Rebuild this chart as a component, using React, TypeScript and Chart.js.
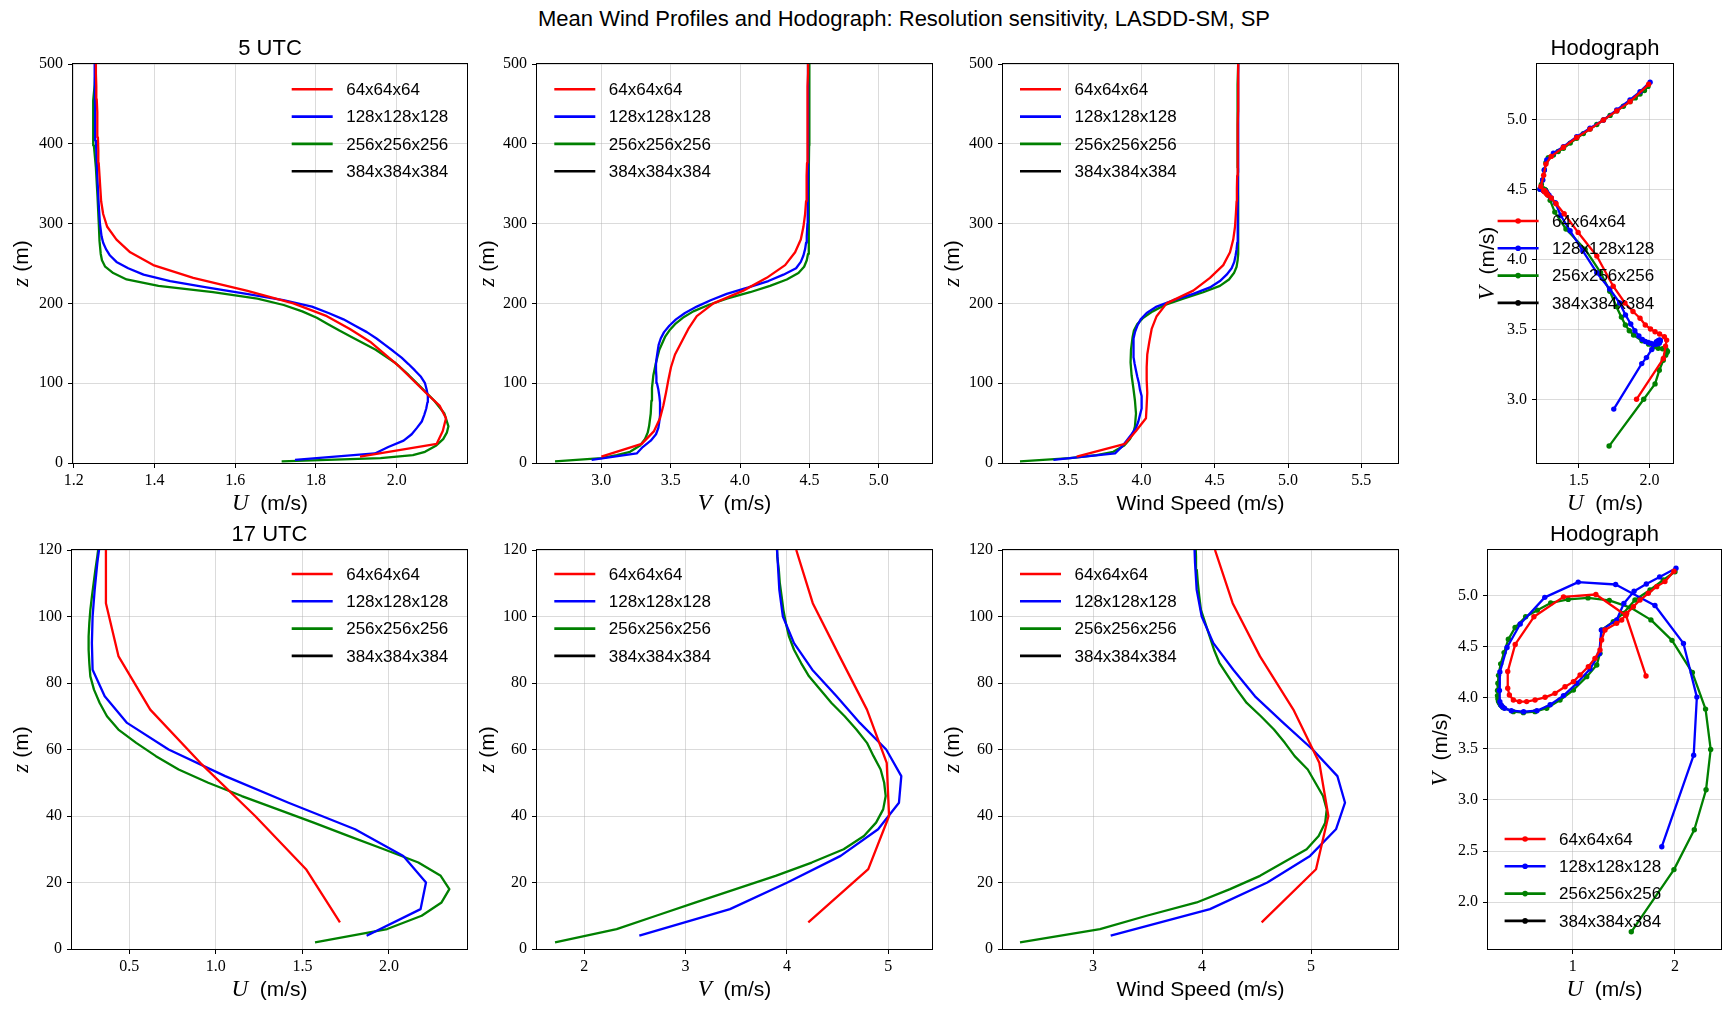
import React, { useEffect, useRef } from 'react';
import { Chart, registerables } from 'chart.js';

Chart.register(...registerables);

// ---------------- series meta ----------------
const SERIES_LABELS = ['64x64x64', '128x128x128', '256x256x256', '384x384x384'];
const SERIES_COLORS = ['#ff0000', '#0000ff', '#008000', '#000000'];

// ---------------- 5 UTC profiles ----------------
const z5_64 = [8, 24, 40, 56, 72, 88, 104, 120, 136, 152, 168, 184, 200, 216, 232, 248, 264, 280, 296, 312, 328, 344, 360, 376, 392, 408, 424, 440, 456, 472, 488, 504];
const u5_64 = [1.909, 2.099, 2.114, 2.122, 2.106, 2.072, 2.04, 2.008, 1.971, 1.934, 1.884, 1.827, 1.744, 1.628, 1.496, 1.397, 1.34, 1.306, 1.283, 1.273, 1.268, 1.266, 1.264, 1.262, 1.261, 1.26, 1.259, 1.258, 1.257, 1.256, 1.255, 1.255];
const v5_64 = [3.0, 3.291, 3.38, 3.423, 3.447, 3.466, 3.483, 3.502, 3.531, 3.579, 3.627, 3.688, 3.808, 4.024, 4.192, 4.325, 4.397, 4.438, 4.457, 4.469, 4.476, 4.479, 4.481, 4.483, 4.484, 4.485, 4.486, 4.487, 4.488, 4.489, 4.49, 4.49];
const s5_64 = [3.557, 3.887, 3.962, 4.03, 4.035, 4.039, 4.035, 4.035, 4.039, 4.053, 4.069, 4.103, 4.171, 4.353, 4.467, 4.558, 4.604, 4.626, 4.638, 4.644, 4.649, 4.651, 4.653, 4.655, 4.656, 4.657, 4.658, 4.659, 4.659, 4.66, 4.66, 4.66];

const z5_128 = [4, 12, 20, 28, 36, 44, 52, 60, 68, 76, 84, 92, 100, 108, 116, 124, 132, 140, 148, 156, 164, 172, 180, 188, 196, 204, 212, 220, 228, 236, 244, 252, 260, 268, 276, 284, 300, 324, 364, 404, 444, 484, 508];
const u5_128 = [1.748, 1.946, 1.979, 2.017, 2.037, 2.05, 2.062, 2.068, 2.073, 2.076, 2.077, 2.074, 2.07, 2.06, 2.045, 2.029, 2.012, 1.992, 1.971, 1.95, 1.926, 1.897, 1.868, 1.831, 1.79, 1.719, 1.628, 1.529, 1.439, 1.373, 1.335, 1.306, 1.29, 1.28, 1.273, 1.269, 1.265, 1.262, 1.258, 1.255, 1.253, 1.252, 1.252];
const v5_128 = [2.93, 3.255, 3.298, 3.356, 3.394, 3.411, 3.418, 3.423, 3.423, 3.423, 3.418, 3.411, 3.401, 3.397, 3.394, 3.394, 3.399, 3.406, 3.413, 3.428, 3.452, 3.49, 3.538, 3.603, 3.688, 3.788, 3.904, 4.06, 4.204, 4.313, 4.404, 4.438, 4.457, 4.469, 4.476, 4.481, 4.486, 4.488, 4.49, 4.49, 4.49, 4.49, 4.49];
const s5_128 = [3.398, 3.819, 3.864, 3.898, 3.932, 3.962, 3.978, 3.989, 4.0, 4.003, 3.998, 3.989, 3.982, 3.971, 3.962, 3.953, 3.946, 3.944, 3.944, 3.948, 3.955, 3.971, 3.994, 4.035, 4.103, 4.217, 4.353, 4.467, 4.535, 4.581, 4.615, 4.633, 4.642, 4.649, 4.653, 4.655, 4.657, 4.658, 4.659, 4.66, 4.66, 4.66, 4.66];

const z5_256 = [2, 6, 10, 14, 22, 30, 38, 46, 62, 78, 94, 110, 126, 142, 158, 166, 174, 182, 190, 198, 206, 214, 222, 230, 238, 246, 254, 262, 278, 302, 334, 370, 398, 414, 434, 454, 474, 502];
const u5_256 = [1.715, 1.96, 2.04, 2.07, 2.098, 2.115, 2.124, 2.128, 2.118, 2.093, 2.062, 2.03, 1.995, 1.948, 1.888, 1.858, 1.83, 1.802, 1.766, 1.72, 1.655, 1.545, 1.41, 1.331, 1.298, 1.278, 1.27, 1.267, 1.264, 1.262, 1.259, 1.255, 1.25, 1.248, 1.249, 1.248, 1.252, 1.255];
const v5_256 = [2.666, 3.0, 3.11, 3.207, 3.279, 3.315, 3.334, 3.344, 3.356, 3.361, 3.365, 3.375, 3.394, 3.418, 3.459, 3.49, 3.531, 3.587, 3.663, 3.772, 3.904, 4.072, 4.216, 4.337, 4.421, 4.462, 4.481, 4.49, 4.495, 4.495, 4.496, 4.497, 4.498, 4.499, 4.5, 4.5, 4.5, 4.5];
const s5_256 = [3.17, 3.511, 3.693, 3.807, 3.882, 3.921, 3.944, 3.955, 3.962, 3.955, 3.944, 3.932, 3.925, 3.928, 3.939, 3.948, 3.971, 4.012, 4.076, 4.16, 4.285, 4.421, 4.535, 4.597, 4.631, 4.649, 4.656, 4.66, 4.66, 4.66, 4.66, 4.658, 4.655, 4.654, 4.656, 4.655, 4.658, 4.66];

// 5 UTC hodograph levels above 500 m (U, V)
const hu5_64up = [1.232, 1.252, 1.268, 1.305, 1.392, 1.486, 1.58, 1.675, 1.769, 1.863, 1.995];
const hv5_64up = [4.52, 4.6, 4.68, 4.735, 4.8, 4.87, 4.93, 4.995, 5.06, 5.126, 5.25];
const hu5_128up = [1.226, 1.245, 1.257, 1.274, 1.321, 1.392, 1.486, 1.58, 1.675, 1.769, 1.863, 1.934, 2.005];
const hv5_128up = [4.5, 4.567, 4.638, 4.71, 4.757, 4.805, 4.876, 4.936, 4.995, 5.067, 5.138, 5.198, 5.265];
const hu5_256up = [1.226, 1.236, 1.245, 1.257, 1.268, 1.285, 1.321, 1.355, 1.392, 1.44, 1.486, 1.533, 1.58, 1.628, 1.675, 1.722, 1.769, 1.816, 1.863, 1.9, 1.934, 1.965, 1.99];
const hv5_256up = [4.5, 4.535, 4.567, 4.638, 4.69, 4.725, 4.745, 4.77, 4.793, 4.83, 4.864, 4.898, 4.931, 4.963, 4.995, 5.028, 5.06, 5.093, 5.126, 5.153, 5.181, 5.205, 5.235];

// ---------------- 17 UTC profiles ----------------
const z17_64 = [8, 24, 40, 56, 72, 88, 104, 120];
const u17_64 = [1.717, 1.521, 1.227, 0.91, 0.621, 0.438, 0.365, 0.365];
const v17_64 = [4.211, 4.803, 5.008, 4.985, 4.79, 4.52, 4.255, 4.092];
const s17_64 = [4.547, 5.046, 5.159, 5.076, 4.838, 4.532, 4.281, 4.119];

const z17_128 = [4, 12, 20, 28, 36, 44, 52, 60, 68, 76, 84, 92, 100, 108, 116, 124];
const u17_128 = [1.871, 2.183, 2.214, 2.083, 1.804, 1.42, 1.054, 0.727, 0.487, 0.358, 0.288, 0.284, 0.288, 0.3, 0.315, 0.335];
const v17_128 = [2.543, 3.438, 4.005, 4.53, 4.9, 5.106, 5.129, 4.98, 4.72, 4.49, 4.25, 4.07, 3.96, 3.925, 3.91, 3.895];
const s17_128 = [3.162, 4.073, 4.599, 4.991, 5.229, 5.312, 5.242, 5.015, 4.746, 4.486, 4.287, 4.104, 3.997, 3.951, 3.936, 3.927];

const z17_256 = [2, 6, 10, 14, 18, 22, 26, 30, 34, 38, 42, 46, 50, 54, 58, 62, 66, 70, 74, 78, 82, 86, 90, 94, 98, 102, 106, 110, 114, 118, 122];
const u17_256 = [1.573, 1.99, 2.189, 2.304, 2.349, 2.299, 2.17, 1.971, 1.765, 1.565, 1.358, 1.15, 0.956, 0.785, 0.654, 0.54, 0.437, 0.371, 0.329, 0.296, 0.275, 0.269, 0.265, 0.265, 0.269, 0.275, 0.284, 0.294, 0.304, 0.315, 0.325];
const v17_256 = [1.711, 2.319, 2.709, 3.1, 3.494, 3.888, 4.245, 4.56, 4.76, 4.88, 4.95, 4.975, 4.96, 4.925, 4.855, 4.79, 4.686, 4.57, 4.44, 4.33, 4.218, 4.14, 4.07, 4.02, 3.99, 3.965, 3.948, 3.93, 3.92, 3.905, 3.9];
const s17_256 = [2.33, 3.064, 3.492, 3.951, 4.257, 4.532, 4.746, 4.96, 5.07, 5.13, 5.144, 5.11, 5.04, 4.97, 4.85, 4.76, 4.66, 4.54, 4.41, 4.32, 4.24, 4.16, 4.11, 4.07, 4.03, 3.99, 3.975, 3.962, 3.952, 3.945, 3.94];

// 17 UTC hodograph levels above the plotted profile range (U, V)
const hu17_64up = [0.381, 0.42, 0.479, 0.55, 0.632, 0.73, 0.827, 0.925, 1.007, 1.072, 1.153, 1.218, 1.267, 1.283, 1.316, 1.43, 1.479, 1.528, 1.593, 1.658, 1.739, 1.821, 1.902, 1.99];
const hv17_64up = [4.026, 3.977, 3.961, 3.961, 3.977, 4.003, 4.042, 4.107, 4.156, 4.221, 4.303, 4.384, 4.466, 4.564, 4.661, 4.726, 4.759, 4.824, 4.889, 4.954, 5.02, 5.085, 5.134, 5.235];
const hu17_128up = [0.4, 0.52, 0.65, 0.78, 0.91, 1.04, 1.17, 1.26, 1.28, 1.43, 1.5, 1.6, 1.72, 1.85, 2.01];
const hv17_128up = [3.872, 3.862, 3.872, 3.93, 4.02, 4.14, 4.28, 4.43, 4.66, 4.76, 4.92, 5.04, 5.11, 5.18, 5.265];
const hu17_256up = [0.42, 0.518, 0.632, 0.746, 0.876, 1.007, 1.137, 1.235, 1.267, 1.283, 1.397, 1.495, 1.609, 1.756, 1.886, 2.0];
const hv17_256up = [3.863, 3.853, 3.863, 3.896, 3.977, 4.075, 4.205, 4.319, 4.433, 4.661, 4.743, 4.824, 4.954, 5.052, 5.15, 5.231];

// ---------------- styling / layout ----------------
const SANS = '"Liberation Sans", Arial, sans-serif';
const SERIF = '"Liberation Serif", "Times New Roman", serif';
const PAD_L = 66;
const PAD_T = 36;
const PAD_R = 8;
const PAD_B = 54;
const LINE_W = 2.3;

const mi = (t: string) => ({ t, f: `italic 23px ${SERIF}` });
const sn = (t: string) => ({ t, f: `21px ${SANS}` });

const LBL_U = [mi('U'), sn('  (m/s)')];
const LBL_V = [mi('V'), sn('  (m/s)')];
const LBL_Z = [mi('z'), sn(' (m)')];
const LBL_S = [sn('Wind Speed (m/s)')];

const prof = (xs: number[], zs: number[]) => [xs, zs];
const hodo = (u: number[], v: number[], uu: number[], vu: number[]) => [[...u, ...uu], [...v, ...vu]];

const PANELS: any[] = [
  {
    L: 73, T: 64, R: 467, B: 463, title: '5 UTC',
    x: { min: 1.1983, max: 2.174, step: 0.2, dec: 1 }, y: { min: 0, max: 500, step: 100, dec: 0 },
    xl: LBL_U, yl: LBL_Z, yOff: 52, leg: { dx: 218.7, dy: 25.3 }, hodo: false,
    series: [prof(u5_64, z5_64), prof(u5_128, z5_128), prof(u5_256, z5_256), null],
  },
  {
    L: 537, T: 64, R: 932, B: 463, title: '',
    x: { min: 2.536, max: 5.384, step: 0.5, dec: 1 }, y: { min: 0, max: 500, step: 100, dec: 0 },
    xl: LBL_V, yl: LBL_Z, yOff: 50.4, leg: { dx: 17.3, dy: 25.3 }, hodo: false,
    series: [prof(v5_64, z5_64), prof(v5_128, z5_128), prof(v5_256, z5_256), null],
  },
  {
    L: 1003, T: 64, R: 1398, B: 463, title: '',
    x: { min: 3.054, max: 5.751, step: 0.5, dec: 1 }, y: { min: 0, max: 500, step: 100, dec: 0 },
    xl: LBL_S, yl: LBL_Z, yOff: 51.4, leg: { dx: 17, dy: 25.3 }, hodo: false,
    series: [prof(s5_64, z5_64), prof(s5_128, z5_128), prof(s5_256, z5_256), null],
  },
  {
    L: 1537, T: 64, R: 1673, B: 463, title: 'Hodograph',
    x: { min: 1.205, max: 2.167, step: 0.5, dec: 1 }, y: { min: 2.545, max: 5.395, step: 0.5, dec: 1 },
    xl: LBL_U, yl: LBL_V, yOff: 50.2, leg: { dx: -39.4, dy: 157 }, hodo: true,
    series: [hodo(u5_64, v5_64, hu5_64up, hv5_64up), hodo(u5_128, v5_128, hu5_128up, hv5_128up), hodo(u5_256, v5_256, hu5_256up, hv5_256up), null],
  },
  {
    L: 72, T: 550, R: 467, B: 949, title: '17 UTC',
    x: { min: 0.169, max: 2.451, step: 0.5, dec: 1 }, y: { min: 0, max: 120, step: 20, dec: 0 },
    xl: LBL_U, yl: LBL_Z, yOff: 51.3, leg: { dx: 219.7, dy: 24 }, hodo: false,
    series: [prof(u17_64, z17_64), prof(u17_128, z17_128), prof(u17_256, z17_256), null],
  },
  {
    L: 537, T: 550, R: 932, B: 949, title: '',
    x: { min: 1.533, max: 5.432, step: 1, dec: 0 }, y: { min: 0, max: 120, step: 20, dec: 0 },
    xl: LBL_V, yl: LBL_Z, yOff: 50.3, leg: { dx: 17.3, dy: 24 }, hodo: false,
    series: [prof(v17_64, z17_64), prof(v17_128, z17_128), prof(v17_256, z17_256), null],
  },
  {
    L: 1003, T: 550, R: 1398, B: 949, title: '',
    x: { min: 2.174, max: 5.798, step: 1, dec: 0 }, y: { min: 0, max: 120, step: 20, dec: 0 },
    xl: LBL_S, yl: LBL_Z, yOff: 51.3, leg: { dx: 17, dy: 24 }, hodo: false,
    series: [prof(s17_64, z17_64), prof(s17_128, z17_128), prof(s17_256, z17_256), null],
  },
  {
    L: 1488, T: 550, R: 1721, B: 949, title: 'Hodograph',
    x: { min: 0.172, max: 2.45, step: 1, dec: 0 }, y: { min: 1.543, max: 5.443, step: 0.5, dec: 1 },
    xl: LBL_U, yl: LBL_V, yOff: 47.7, leg: { dx: 16.6, dy: 289 }, hodo: true,
    series: [hodo(u17_64, v17_64, hu17_64up, hv17_64up), hodo(u17_128, v17_128, hu17_128up, hv17_128up), hodo(u17_256, v17_256, hu17_256up, hv17_256up), null],
  },
];

function drawSegs(ctx: CanvasRenderingContext2D, segs: any[], cx: number, cy: number, rot: number) {
  ctx.save();
  ctx.translate(cx, cy);
  ctx.rotate(rot);
  ctx.textAlign = 'left';
  ctx.textBaseline = 'alphabetic';
  const widths = segs.map((s) => {
    ctx.font = s.f;
    return ctx.measureText(s.t).width;
  });
  const total = widths.reduce((a, b) => a + b, 0);
  let x = -total / 2;
  segs.forEach((s, i) => {
    ctx.font = s.f;
    ctx.fillStyle = '#000';
    ctx.fillText(s.t, x, 7);
    x += widths[i];
  });
  ctx.restore();
}

function decor(p: any) {
  return {
    id: 'decor',
    afterDraw(chart: any) {
      const { ctx, chartArea: a } = chart;
      ctx.save();
      // frame
      ctx.strokeStyle = '#000';
      ctx.lineWidth = 1;
      const l = Math.round(a.left) - 0.5;
      const r = Math.round(a.right) + 0.5;
      const t = Math.round(a.top) - 0.5;
      const b = Math.round(a.bottom) + 0.5;
      ctx.strokeRect(l, t, r - l, b - t);
      // subplot title
      if (p.title) {
        ctx.font = `22px ${SANS}`;
        ctx.fillStyle = '#000';
        ctx.textAlign = 'center';
        ctx.textBaseline = 'middle';
        ctx.fillText(p.title, (a.left + a.right) / 2, a.top - 15.5);
      }
      // axis labels
      drawSegs(ctx, p.xl, (a.left + a.right) / 2, a.bottom + 40, 0);
      drawSegs(ctx, p.yl, a.left - p.yOff, (a.top + a.bottom) / 2, -Math.PI / 2);
      // legend
      const rowH = 27.3;
      chart.data.datasets.forEach((ds: any, i: number) => {
        const y = a.top + p.leg.dy + i * rowH;
        const x0 = a.left + p.leg.dx;
        ctx.strokeStyle = ds.borderColor;
        ctx.lineWidth = 2.6;
        ctx.lineCap = 'butt';
        ctx.beginPath();
        ctx.moveTo(x0, y);
        ctx.lineTo(x0 + 41, y);
        ctx.stroke();
        if (p.hodo) {
          ctx.fillStyle = ds.borderColor;
          ctx.beginPath();
          ctx.arc(x0 + 20.5, y, 2.8, 0, Math.PI * 2);
          ctx.fill();
        }
        ctx.fillStyle = '#000';
        ctx.font = `17px ${SANS}`;
        ctx.textAlign = 'left';
        ctx.textBaseline = 'middle';
        ctx.fillText(ds.label, x0 + 54.5, y + 1);
      });
      ctx.restore();
    },
  };
}

function axisOpts(ax: any, isX: boolean) {
  return {
    type: 'linear',
    position: isX ? 'bottom' : 'left',
    min: ax.min,
    max: ax.max,
    ticks: {
      stepSize: ax.step,
      includeBounds: false,
      autoSkip: false,
      maxRotation: 0,
      minRotation: 0,
      color: '#000',
      font: { family: SERIF, size: 16 },
      padding: isX ? 3 : 5,
      callback: (v: any) => Number(v).toFixed(ax.dec),
    },
    grid: {
      color: 'rgba(176,176,176,0.45)',
      lineWidth: 1,
      drawTicks: true,
      tickLength: 5,
      tickColor: '#000',
      tickWidth: 1,
    },
    border: { display: false },
    afterFit: (s: any) => {
      if (isX) s.height = PAD_B;
      else s.width = PAD_L;
    },
  };
}

function buildConfig(p: any) {
  const datasets = p.series.map((s: any, i: number) => ({
    label: SERIES_LABELS[i],
    data: s ? s[0].map((x: number, j: number) => ({ x, y: s[1][j] })) : [],
    borderColor: SERIES_COLORS[i],
    backgroundColor: SERIES_COLORS[i],
    borderWidth: LINE_W,
    showLine: true,
    pointRadius: p.hodo ? 2.7 : 0,
    pointHoverRadius: 0,
    pointBorderWidth: 0,
    fill: false,
    tension: 0,
    borderJoinStyle: 'round',
  }));
  return {
    type: 'scatter',
    data: { datasets },
    options: {
      responsive: false,
      animation: false,
      devicePixelRatio: 1,
      events: [],
      layout: { padding: { left: 0, top: PAD_T, right: PAD_R, bottom: 0 } },
      scales: { x: axisOpts(p.x, true), y: axisOpts(p.y, false) },
      plugins: { legend: { display: false }, tooltip: { enabled: false }, title: { display: false } },
    },
    plugins: [decor(p)],
  };
}

function Panel({ p }: { p: any }) {
  const ref = useRef<HTMLCanvasElement | null>(null);
  const W = PAD_L + (p.R - p.L) + PAD_R;
  const H = PAD_T + (p.B - p.T) + PAD_B;
  useEffect(() => {
    if (!ref.current) return;
    const chart = new Chart(ref.current, buildConfig(p) as any);
    return () => chart.destroy();
  }, []);
  return (
    <canvas
      ref={ref}
      width={W}
      height={H}
      style={{ position: 'absolute', left: p.L - PAD_L, top: p.T - PAD_T, width: W, height: H }}
    />
  );
}

export default function App() {
  return (
    <div style={{ position: 'absolute', left: 0, top: 0, width: 1731, height: 1011, background: '#fff', overflow: 'hidden' }}>
      <div
        style={{
          position: 'absolute',
          left: 904 - 500,
          width: 1000,
          top: 6,
          height: 26,
          lineHeight: '26px',
          textAlign: 'center',
          fontFamily: SANS,
          fontSize: 22,
          color: '#000',
          whiteSpace: 'nowrap',
        }}
      >
        Mean Wind Profiles and Hodograph: Resolution sensitivity, LASDD-SM, SP
      </div>
      {PANELS.map((p, i) => (
        <Panel key={i} p={p} />
      ))}
    </div>
  );
}
